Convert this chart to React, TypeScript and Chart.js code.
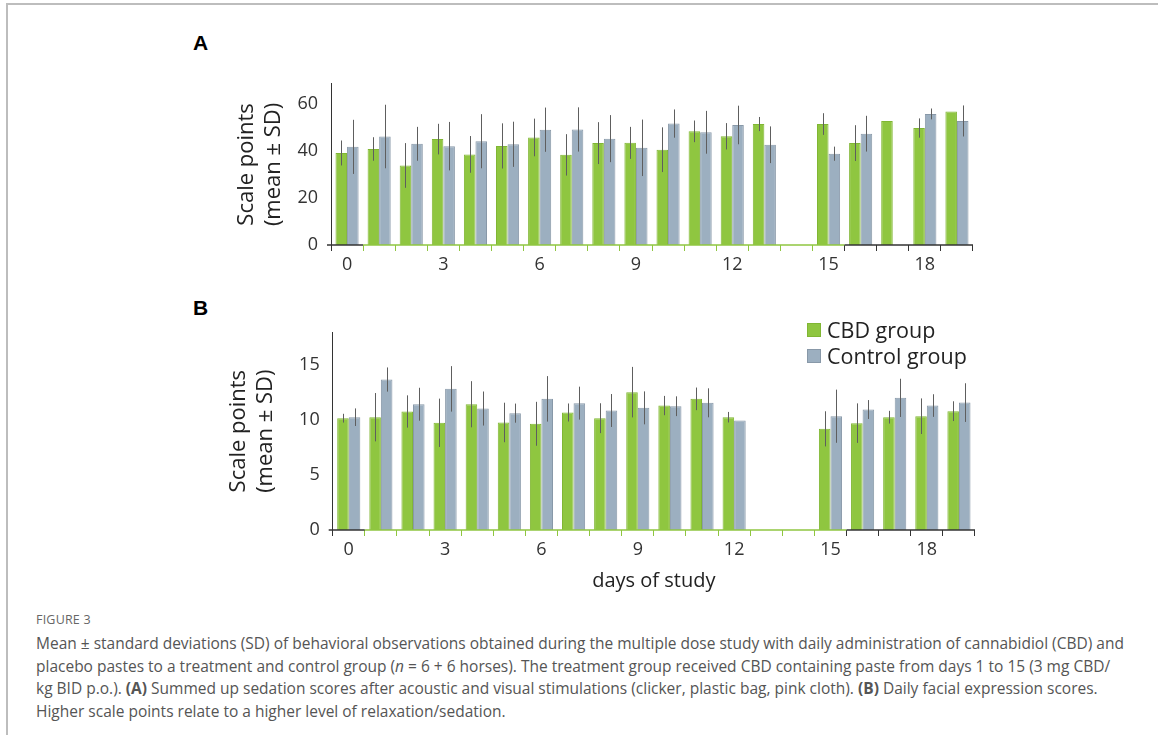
import React, { useEffect, useRef } from "react";
import { Chart, registerables } from "chart.js";

Chart.register(...registerables);

// Study days shown on the x axis
const days = ["0", "1", "2", "3", "4", "5", "6", "7", "8", "9", "10", "11", "12", "13", "14", "15", "16", "17", "18", "19"];

// Days on which the CBD paste was given (highlighted on the x axis)
const treatmentStart = 1;
const treatmentEnd = 15;

// Panel A: summed sedation scores (mean and SD)
const cbdA = [39.1, 40.8, 33.8, 45.0, 38.5, 42.1, 45.7, 38.3, 43.3, 43.4, 40.5, 48.3, 46.2, 51.4, null, 51.4, 43.3, 52.7, 49.7, 56.7];
const cbdSdA = [5.3, 5.0, 9.5, 6.5, 7.8, 9.6, 8.0, 8.8, 8.9, 6.8, 9.5, 4.6, 5.6, 3.0, null, 4.6, 7.6, 0, 4.1, 0];
const ctrlA = [41.7, 46.1, 43.0, 42.0, 44.1, 42.8, 49.0, 49.1, 45.2, 41.3, 51.6, 47.9, 51.0, 42.6, null, 38.8, 47.3, null, 55.7, 52.7];
const ctrlSdA = [11.5, 13.5, 7.2, 10.3, 11.5, 9.6, 9.4, 9.4, 10.0, 12.0, 6.0, 9.1, 8.2, 7.8, null, 3.0, 7.6, null, 2.3, 6.6];
const ticksA = [0, 20, 40, 60];

// Panel B: daily facial expression scores (mean and SD)
const cbdB = [10.18, 10.27, 10.79, 9.76, 11.45, 9.79, 9.67, 10.7, 10.18, 12.55, 11.33, 11.94, 10.27, null, null, 9.21, 9.73, 10.27, 10.36, 10.82];
const cbdSdB = [0.4, 2.2, 1.47, 2.2, 2.1, 1.8, 2.0, 0.82, 1.36, 2.3, 0.88, 1.03, 0.48, null, null, 1.6, 1.8, 0.58, 1.62, 0.9];
const ctrlB = [10.27, 13.7, 11.45, 12.85, 11.06, 10.64, 11.94, 11.55, 10.88, 11.12, 11.27, 11.58, 9.97, null, null, 10.36, 10.97, 12.03, 11.33, 11.6];
const ctrlSdB = [0.8, 1.1, 1.5, 2.07, 1.55, 0.87, 2.07, 1.5, 1.5, 1.5, 0.9, 1.32, 0, null, null, 2.42, 0.86, 1.74, 1.03, 1.76];
const ticksB = [0, 5, 10, 15];

const GREEN = "#8fc640";
const GREEN_EDGE = "#80b634";
const BLUE = "#9cafc0";
const BLUE_EDGE = "#8898a8";
const AXIS = "#333333";
const FONT = "'Open Sans', sans-serif";

// Vertical SD whiskers on top of every bar
const errorBars = {
  id: "errorBars",
  afterDatasetsDraw(chart: any) {
    const { ctx } = chart;
    const y = chart.scales.y;
    ctx.save();
    ctx.strokeStyle = "#5e5e5e";
    ctx.lineWidth = 1;
    chart.data.datasets.forEach((ds: any, d: number) => {
      const meta = chart.getDatasetMeta(d);
      meta.data.forEach((el: any, i: number) => {
        const v = ds.data[i];
        const s = ds.sd[i];
        if (v == null || s == null || s === 0) return;
        const x = Math.round(el.x) + 0.5;
        ctx.beginPath();
        ctx.moveTo(x, y.getPixelForValue(v + s));
        ctx.lineTo(x, y.getPixelForValue(v - s));
        ctx.stroke();
      });
    });
    ctx.restore();
  },
};

// x axis line, green over the treatment days, dark elsewhere
const treatmentAxis = {
  id: "treatmentAxis",
  afterDraw(chart: any) {
    const xs = chart.scales.x;
    const n = chart.data.labels.length;
    const bound = (i: number) =>
      i <= 0 ? xs.left : i >= n ? xs.right : (xs.getPixelForValue(i - 1) + xs.getPixelForValue(i)) / 2;
    const yPix = chart.chartArea.bottom;
    const { ctx } = chart;
    const seg = (a: number, b: number, c: string) => {
      ctx.beginPath();
      ctx.strokeStyle = c;
      ctx.moveTo(a, yPix);
      ctx.lineTo(b, yPix);
      ctx.stroke();
    };
    ctx.save();
    ctx.lineWidth = 1.5;
    seg(xs.left - 4, bound(treatmentStart), AXIS);
    seg(bound(treatmentStart), bound(treatmentEnd + 1), GREEN);
    seg(bound(treatmentEnd + 1), xs.right, AXIS);
    ctx.restore();
  },
};

type PanelProps = {
  cbd: (number | null)[];
  cbdSd: (number | null)[];
  ctrl: (number | null)[];
  ctrlSd: (number | null)[];
  yTicks: number[];
  yMax: number;
  width: number;
  height: number;
  yAxisWidth: number;
  xAxisHeight: number;
  padTop: number;
  titlePad: number;
  showXTitle: boolean;
};

function Panel(p: PanelProps) {
  const ref = useRef<HTMLCanvasElement>(null);
  useEffect(() => {
    if (!ref.current) return;
    const chart = new Chart(ref.current, {
      type: "bar",
      data: {
        labels: days,
        datasets: [
          {
            label: "CBD group",
            data: p.cbd,
            sd: p.cbdSd,
            backgroundColor: GREEN,
            borderColor: GREEN_EDGE,
            borderWidth: 1,
            categoryPercentage: 0.72,
            barPercentage: 1,
          } as any,
          {
            label: "Control group",
            data: p.ctrl,
            sd: p.ctrlSd,
            backgroundColor: BLUE,
            borderColor: BLUE_EDGE,
            borderWidth: 1,
            categoryPercentage: 0.72,
            barPercentage: 1,
          } as any,
        ],
      },
      options: {
        responsive: false,
        animation: false,
        devicePixelRatio: 1,
        layout: { padding: { top: p.padTop, right: 17, left: 0, bottom: 0 } },
        plugins: { legend: { display: false }, tooltip: { enabled: false } },
        scales: {
          x: {
            afterFit: (s: any) => {
              s.height = p.xAxisHeight;
            },
            border: { display: false },
            grid: {
              display: true,
              drawOnChartArea: false,
              drawTicks: true,
              tickLength: 6,
              lineWidth: 1,
              color: (c: any) =>
                c.index != null && c.index >= treatmentStart && c.index <= treatmentEnd ? GREEN : AXIS,
            },
            ticks: {
              autoSkip: false,
              maxRotation: 0,
              padding: 3,
              color: "#333",
              font: { family: FONT, size: 18 },
              callback: (_v: any, i: number) => (i % 3 === 0 ? days[i] : ""),
            },
            title: {
              display: p.showXTitle,
              text: "days of study",
              color: "#222",
              font: { family: FONT, size: 20 },
              padding: { top: 0, bottom: 7 },
            },
          },
          y: {
            min: 0,
            max: p.yMax,
            afterFit: (s: any) => {
              s.width = p.yAxisWidth;
            },
            afterBuildTicks: (s: any) => {
              s.ticks = p.yTicks.map((v) => ({ value: v }));
            },
            border: { display: true, color: AXIS, width: 1 },
            grid: { display: false, drawTicks: false },
            ticks: {
              padding: 13,
              color: "#333",
              font: { family: FONT, size: 18 },
            },
            title: {
              display: true,
              text: ["Scale points", "(mean \u00b1 SD)"],
              color: "#222",
              font: { family: FONT, size: 22, lineHeight: 1.2 },
              padding: { top: p.titlePad, bottom: 0 },
            },
          },
        },
      } as any,
      plugins: [errorBars, treatmentAxis],
    });
    return () => chart.destroy();
  }, []);
  return (
    <canvas
      ref={ref}
      width={p.width}
      height={p.height}
      style={{ width: p.width, height: p.height, display: "block" }}
    />
  );
}

export default function App() {
  const abs = (l: number, t: number): React.CSSProperties => ({ position: "absolute", left: l, top: t });
  const legendRow = (color: string, edge: string, text: string, top: number) => (
    <div style={{ ...abs(807, top), display: "flex", alignItems: "center", whiteSpace: "nowrap" }}>
      <div style={{ width: 14, height: 14, background: color, border: `1px solid ${edge}`, boxSizing: "border-box", marginRight: 6 }} />
      <span style={{ fontFamily: FONT, fontSize: 21.5, color: "#222", lineHeight: "26px" }}>{text}</span>
    </div>
  );
  const cap: React.CSSProperties = {
    fontFamily: FONT,
    fontSize: 15.5,
    color: "#555",
    whiteSpace: "nowrap",
    lineHeight: "22.7px",
  };
  return (
    <div style={{ position: "absolute", left: 0, top: 0, width: 1158, height: 735, background: "#fff", overflow: "hidden" }}>
      <div
        style={{
          ...abs(6, 3),
          width: 1160,
          height: 740,
          borderTop: "2px solid #bdbdbd",
          borderLeft: "2px solid #bdbdbd",
        }}
      />
      <div style={{ ...abs(193, 31), fontFamily: "'Liberation Sans', Arial, sans-serif", fontWeight: 700, fontSize: 21 }}>A</div>
      <div style={{ ...abs(193, 296), fontFamily: "'Liberation Sans', Arial, sans-serif", fontWeight: 700, fontSize: 21 }}>B</div>
      <div style={abs(200, 60)}>
        <Panel
          cbd={cbdA}
          cbdSd={cbdSdA}
          ctrl={ctrlA}
          ctrlSd={ctrlSdA}
          yTicks={ticksA}
          yMax={68.5}
          width={790}
          height={215}
          yAxisWidth={131}
          xAxisHeight={30}
          padTop={12.7}
          titlePad={34}
          showXTitle={false}
        />
      </div>
      <div style={abs(200, 300)}>
        <Panel
          cbd={cbdB}
          cbdSd={cbdSdB}
          ctrl={ctrlB}
          ctrlSd={ctrlSdB}
          yTicks={ticksB}
          yMax={18}
          width={792}
          height={300}
          yAxisWidth={132.7}
          xAxisHeight={70}
          padTop={32.3}
          titlePad={26}
          showXTitle={true}
        />
      </div>
      {legendRow(GREEN, GREEN_EDGE, "CBD group", 317)}
      {legendRow(BLUE, BLUE_EDGE, "Control group", 343)}
      <div style={{ ...abs(36, 611), fontFamily: FONT, fontSize: 12.5, color: "#666", letterSpacing: 0.2 }}>FIGURE 3</div>
      <div style={abs(36, 632)}>
        <div style={cap}>
          Mean ± standard deviations (SD) of behavioral observations obtained during the multiple dose study with daily administration of cannabidiol (CBD) and
        </div>
        <div style={cap}>
          placebo pastes to a treatment and control group (<i>n</i> = 6 + 6 horses). The treatment group received CBD containing paste from days 1 to 15 (3 mg CBD/
        </div>
        <div style={cap}>
          kg BID p.o.). <b>(A)</b> Summed up sedation scores after acoustic and visual stimulations (clicker, plastic bag, pink cloth).{" "}
          <b>(B)</b> Daily facial expression scores.
        </div>
        <div style={cap}>Higher scale points relate to a higher level of relaxation/sedation.</div>
      </div>
    </div>
  );
}
